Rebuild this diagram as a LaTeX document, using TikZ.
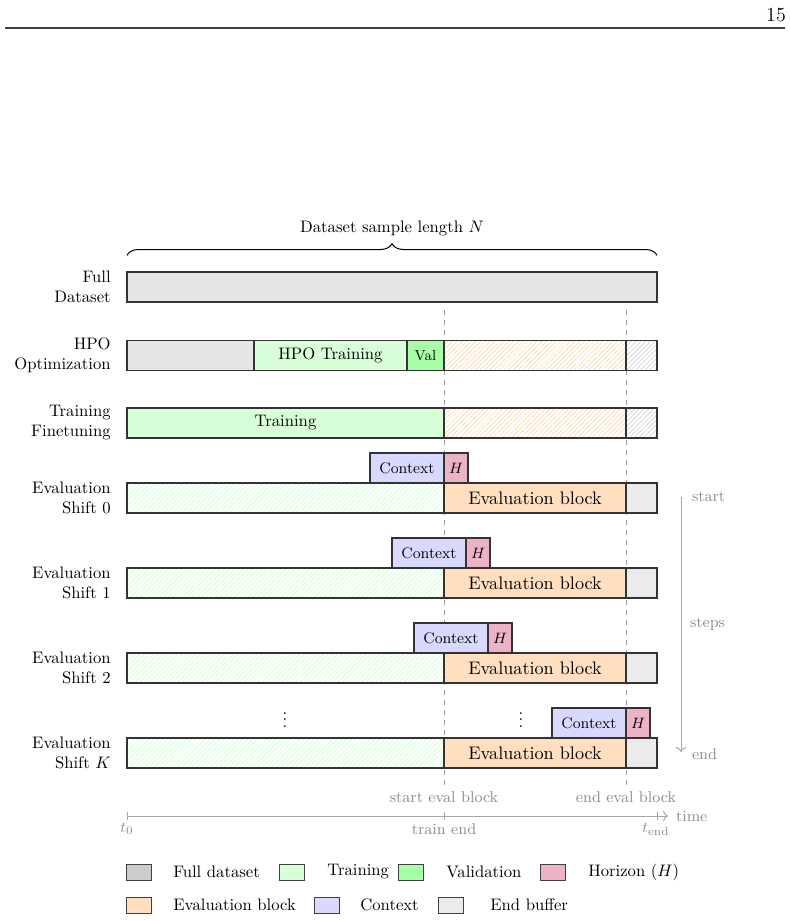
\documentclass[tikz,border=0pt]{standalone}
\usepackage{tikz}
\usetikzlibrary{arrows.meta, positioning, patterns.meta, decorations.pathreplacing}

\colorlet{fullc}{black!10}
\colorlet{trainc}{green!15}
\colorlet{valc}{green!35}
\colorlet{horc}{purple!30}
\colorlet{evalc}{orange!25}
\colorlet{ctxc}{blue!15}
\colorlet{bufc}{black!8}
\colorlet{guidec}{black!40}

\begin{document}
\begin{tikzpicture}[
  x=0.6pt, y=-0.6pt,
  font=\fontsize{10}{12}\selectfont,
  seg/.style={
    draw=black!80, line width=0.65pt, minimum height=18pt,
    inner sep=0pt, outer sep=0pt, anchor=west
  },
  ctx/.style={
    draw=black!80, line width=0.65pt, fill=ctxc, minimum height=18pt,
    minimum width=44.4pt, inner sep=0pt, outer sep=0pt,
    font=\fontsize{9.2}{11}\selectfont
  },
  hor/.style={ctx, fill=horc, minimum width=14.4pt},
  evalhatch/.style={pattern={Lines[angle=45, distance=2pt, line width=0.3pt]}, pattern color=orange!40},
  trainhatch/.style={pattern={Lines[angle=45, distance=2pt, line width=0.3pt]}, pattern color=green!25},
  bufhatch/.style={pattern={Lines[angle=45, distance=2pt, line width=0.3pt]}, pattern color=black!22},
  evaltext/.style={font=\fontsize{10.9}{13}\selectfont},
  rowlabel/.style={anchor=east, align=right, inner sep=0pt},
  guide/.style={draw=guidec, dashed, line width=0.5pt},
  axis/.style={draw=black!35, line width=0.6pt},
  note/.style={text=black!45, font=\fontsize{9.4}{11}\selectfont, inner sep=1pt},
  legbox/.style={draw=black!75, line width=0.6pt, minimum width=15pt, minimum height=9.6pt, inner sep=0pt},
  legtext/.style={anchor=west, inner sep=0pt}
]
  \useasboundingbox (0,0) rectangle (790,921);

  % page head
  \node[font=\fontsize{12}{14}\selectfont, inner sep=0pt] (pagenum) at (776,15) {15};
  \draw[draw=black!75, line width=0.8pt] (5,28) -- (785,28);

  % guide lines
  \coordinate (gtop1) at (444,310);
  \coordinate (gtop2) at (626,310);
  \node[note] (startlbl) at (444,797) {start eval block};
  \node[note] (endlbl) at (626,797) {end eval block};
  \draw[guide] (gtop1) -- ([yshift=1pt]startlbl.north);
  \draw[guide] (gtop2) -- ([yshift=1pt]endlbl.north);

  % full dataset
  \node[seg, fill=fullc, minimum width=318pt] (full) at (127,287) {};
  \node[rowlabel] (lfull) at (111,287) {Full\\Dataset};
  \draw[decorate, decoration={brace, amplitude=7pt}, line width=0.6pt]
    ([yshift=10pt]full.north west) -- ([yshift=10pt]full.north east);
  \node (lenlbl) at (392,228) {Dataset sample length $N$};

  % hpo
  \node[seg, fill=fullc, minimum width=76.2pt] (hpopre) at (127,355.5) {};
  \node[seg, fill=trainc, minimum width=91.8pt, right=0pt of hpopre] (hpotrain) {HPO Training};
  \node[seg, fill=valc, minimum width=22.2pt, right=0pt of hpotrain, font=\fontsize{8.7}{10}\selectfont] (hpoval) {Val};
  \node[seg, evalhatch, minimum width=109.2pt, right=0pt of hpoval] (hpoeval) {};
  \node[seg, bufhatch, minimum width=18.6pt, right=0pt of hpoeval] (hpobuf) {};
  \node[rowlabel] (lhpo) at (111,355.5) {HPO\\Optimization};

  % training
  \node[seg, fill=trainc, minimum width=190.2pt] (fttrain) at (127,423) {Training};
  \node[seg, evalhatch, minimum width=109.2pt, right=0pt of fttrain] (fteval) {};
  \node[seg, bufhatch, minimum width=18.6pt, right=0pt of fteval] (ftbuf) {};
  \node[rowlabel] (lft) at (111,423) {Training\\Finetuning};

  % shift 0
  \node[seg, trainhatch, minimum width=190.2pt] (s0train) at (127,498) {};
  \node[seg, fill=evalc, evaltext, minimum width=109.2pt, right=0pt of s0train] (s0eval) {Evaluation block};
  \node[seg, fill=bufc, minimum width=18.6pt, right=0pt of s0eval] (s0buf) {};
  \node[ctx, anchor=south east] (c0) at (s0eval.north west) {Context};
  \node[hor, right=0pt of c0] (h0) {$H$};
  \node[rowlabel] (ls0) at (111,498) {Evaluation\\Shift 0};

  % shift 1
  \node[seg, trainhatch, minimum width=190.2pt] (s1train) at (127,583) {};
  \node[seg, fill=evalc, evaltext, minimum width=109.2pt, right=0pt of s1train] (s1eval) {Evaluation block};
  \node[seg, fill=bufc, minimum width=18.6pt, right=0pt of s1eval] (s1buf) {};
  \node[ctx, anchor=south east] (c1) at ([xshift=13.2pt]s1eval.north west) {Context};
  \node[hor, right=0pt of c1] (h1) {$H$};
  \node[rowlabel] (ls1) at (111,583) {Evaluation\\Shift 1};

  % shift 2
  \node[seg, trainhatch, minimum width=190.2pt] (s2train) at (127,668) {};
  \node[seg, fill=evalc, evaltext, minimum width=109.2pt, right=0pt of s2train] (s2eval) {Evaluation block};
  \node[seg, fill=bufc, minimum width=18.6pt, right=0pt of s2eval] (s2buf) {};
  \node[ctx, anchor=south east] (c2) at ([xshift=26.4pt]s2eval.north west) {Context};
  \node[hor, right=0pt of c2] (h2) {$H$};
  \node[rowlabel] (ls2) at (111,668) {Evaluation\\Shift 2};

  \node[inner sep=0pt] (dots1) at (285,715) {$\vdots$};
  \node[inner sep=0pt] (dots2) at (521,715) {$\vdots$};

  % shift K
  \node[seg, trainhatch, minimum width=190.2pt] (sktrain) at (127,753) {};
  \node[seg, fill=evalc, evaltext, minimum width=109.2pt, right=0pt of sktrain] (skeval) {Evaluation block};
  \node[seg, fill=bufc, minimum width=18.6pt, right=0pt of skeval] (skbuf) {};
  \node[ctx, anchor=south east] (ck) at (skeval.north east) {Context};
  \node[hor, right=0pt of ck] (hk) {$H$};
  \node[rowlabel] (lsk) at (111,753) {Evaluation\\Shift $K$};

  % steps
  \node[note, anchor=west] (stepstart) at (690,497) {start};
  \node[note, anchor=west] (stepmid) at (688,624) {steps};
  \node[note, anchor=west] (stepend) at (690,754) {end};
  \draw[axis, -{To[length=3pt]}] (681,497) -- (681,752);

  % time axis
  \coordinate (tzero) at (127,816);
  \coordinate (tend) at (668,816);
  \draw[axis, -{To[length=3pt]}] (tzero) -- (tend);
  \draw[axis] (127,812) -- (127,820);
  \draw[axis] (444,812) -- (444,820);
  \draw[axis] (657,812) -- (657,820);
  \node[note, anchor=west] (timelbl) at (674,816) {time};
  \node[note] (tzerolbl) at (127,829) {$t_0$};
  \node[note] (trainend) at (444,829) {train end};
  \node[note] (tendlbl) at (656,829) {$t_{\mathrm{end}}$};

  % legend
  \node[legbox, fill=black!20] (lg1) at (138.5,872) {};
  \node[legtext] (lt1) at (173,872) {Full dataset};
  \node[legbox, fill=trainc] (lg2) at (291.5,872) {};
  \node[legtext] (lt2) at (327,872) {Training};
  \node[legbox, fill=valc] (lg3) at (410.5,872) {};
  \node[legtext] (lt3) at (446,872) {Validation};
  \node[legbox, fill=horc] (lg4) at (552.5,872) {};
  \node[legtext] (lt4) at (588,872) {Horizon ($H$)};
  \node[legbox, fill=evalc] (lg5) at (138.5,905) {};
  \node[legtext] (lt5) at (173,905) {Evaluation block};
  \node[legbox, fill=ctxc] (lg6) at (326.5,905) {};
  \node[legtext] (lt6) at (360,905) {Context};
  \node[legbox, fill=bufc] (lg7) at (450.5,905) {};
  \node[legtext] (lt7) at (490,905) {End buffer};
\end{tikzpicture}
\end{document}
